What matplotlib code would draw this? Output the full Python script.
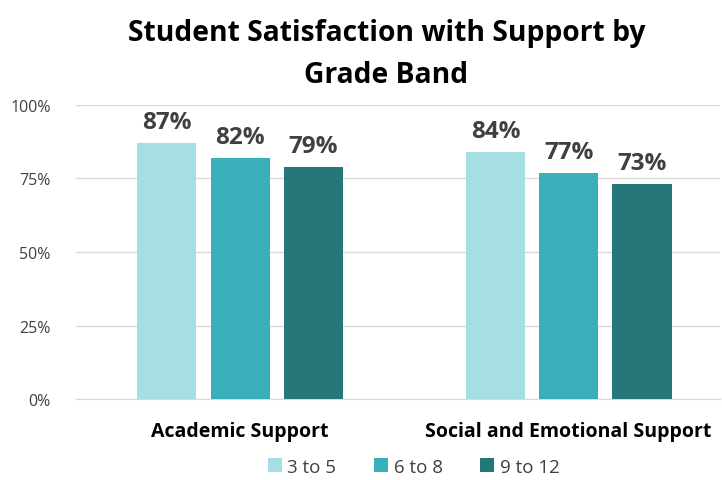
import matplotlib
matplotlib.use("Agg")
import matplotlib.pyplot as plt
import numpy as np

categories = ["Academic Support", "Social and Emotional Support"]
series_names = ["3 to 5", "6 to 8", "9 to 12"]
values = {
    "3 to 5": [87, 84],
    "6 to 8": [82, 77],
    "9 to 12": [79, 73],
}
colors = ["#A5DFE3", "#38AFB9", "#26777A"]
yticks = [0, 25, 50, 75, 100]

plt.rcParams['font.family'] = ['Open Sans', 'DejaVu Sans']

fig = plt.figure(figsize=(7.22, 4.81), dpi=100)
ax = fig.add_axes([0.105, 0.168, 0.892, 0.612])

x = np.arange(len(categories))
width = 0.18
step = 0.223
for i, name in enumerate(series_names):
    pos = x + (i - 1) * step
    bars = ax.bar(pos, values[name], width, color=colors[i], label=name, zorder=3)
    for b, v in zip(bars, values[name]):
        ax.text(b.get_x() + b.get_width() / 2, v + 3, f"{v}%", ha="center", va="bottom",
                fontsize=17.5, fontweight="bold", color="#404040")

ax.set_ylim(0, 100)
ax.set_xlim(-0.5, 1.46)
ax.set_yticks(yticks)
ax.set_yticklabels([f"{t}%" for t in yticks], fontsize=11.5, color="#404040")
ax.yaxis.grid(True, color="#D9D9D9", linewidth=1, zorder=0)
ax.set_xticks(x)
ax.set_xticklabels(categories, fontsize=14, fontweight="bold", color="#000000")
ax.tick_params(axis="both", length=0)
ax.tick_params(axis="x", pad=16)
ax.tick_params(axis="y", pad=18)
for s in ["top", "right", "left"]:
    ax.spines[s].set_visible(False)
ax.spines["bottom"].set_color("#D9D9D9")

fig.suptitle("Student Satisfaction with Support by\nGrade Band", x=0.535, y=0.96,
             fontsize=20.3, fontweight="bold", color="#000000", linespacing=1.6)

leg = fig.legend(loc="center", bbox_to_anchor=(0.573, 0.028), ncol=3, frameon=False,
                 fontsize=13.5, handlelength=0.75, handleheight=0.75, handletextpad=0.3,
                 columnspacing=2.0, labelcolor="#404040")

fig.savefig("out.png", dpi=100)
